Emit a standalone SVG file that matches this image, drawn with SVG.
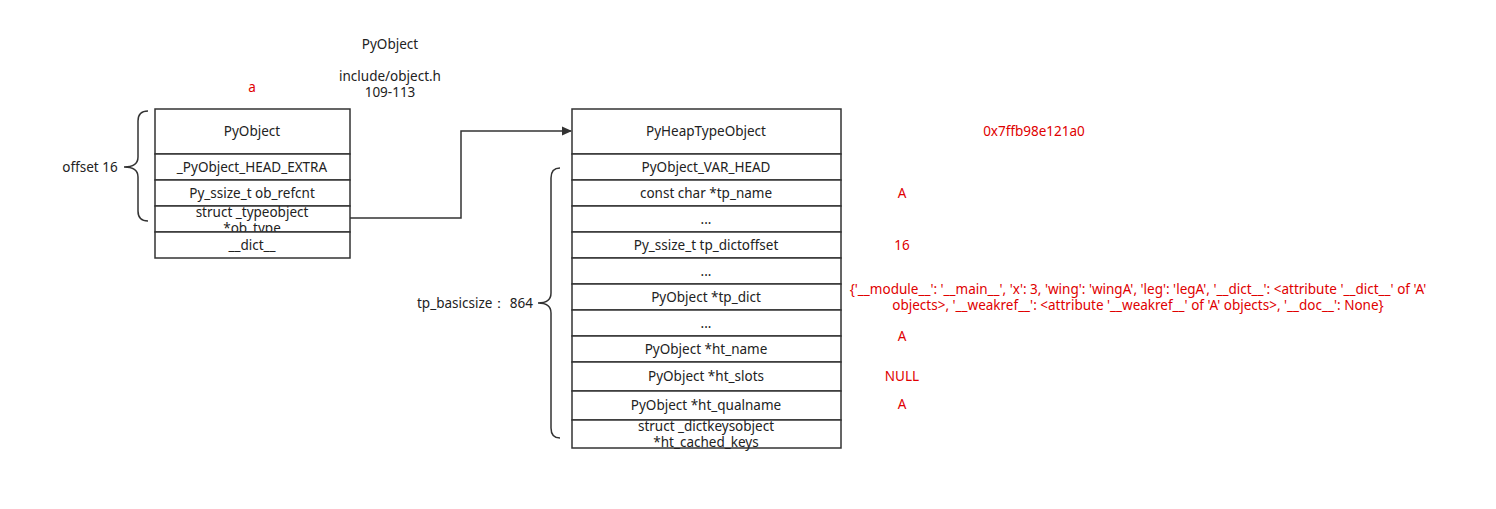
<svg xmlns="http://www.w3.org/2000/svg" width="1496" height="509" viewBox="0 0 1496 509">
<style>
text{font-family:"Noto Sans","Open Sans","DejaVu Sans",sans-serif;font-size:13.5px;fill:#222;text-anchor:middle;dominant-baseline:central}
.r{fill:#e00000}
.box{fill:#fff;stroke:#333;stroke-width:1.5}
.ln{fill:none;stroke:#333;stroke-width:1.5}
</style>
<defs>
<marker id="ah" markerWidth="10" markerHeight="10" refX="9" refY="5" orient="auto" markerUnits="userSpaceOnUse">
<path d="M0,0.5 L10,5 L0,9.5 Z" fill="#333"/>
</marker>
</defs>
<rect width="1496" height="509" fill="#fff"/>
<g id="labels">
<text x="390" y="44">PyObject</text>
<text x="390" y="76">include/object.h</text>
<text x="390" y="92">109-113</text>
<text class="r" x="252" y="87">a</text>
<text x="90" y="167">offset 16</text>
<text x="475" y="303">tp_basicsize： 864</text>
</g>
<g id="left-struct">
<rect class="box" x="155" y="109" width="195" height="45"/>
<text x="252" y="131">PyObject</text>
<rect class="box" x="155" y="154" width="195" height="26"/>
<text x="252" y="167">_PyObject_HEAD_EXTRA</text>
<rect class="box" x="155" y="180" width="195" height="26"/>
<text x="252" y="193">Py_ssize_t ob_refcnt</text>
<rect class="box" x="155" y="206" width="195" height="26"/>
<text x="252" y="212">struct _typeobject</text>
<text x="252" y="228">*ob_type</text>
<rect class="box" x="155" y="232" width="195" height="26"/>
<text x="252" y="245">__dict__</text>
</g>
<g id="right-struct">
<rect class="box" x="572" y="109" width="269" height="45"/>
<text x="706" y="131">PyHeapTypeObject</text>
<rect class="box" x="572" y="154" width="269" height="26"/>
<text x="706" y="167">PyObject_VAR_HEAD</text>
<rect class="box" x="572" y="180" width="269" height="26"/>
<text x="706" y="193">const char *tp_name</text>
<rect class="box" x="572" y="206" width="269" height="26"/>
<text x="706" y="219">...</text>
<rect class="box" x="572" y="232" width="269" height="26"/>
<text x="706" y="245">Py_ssize_t tp_dictoffset</text>
<rect class="box" x="572" y="258" width="269" height="26"/>
<text x="706" y="271">...</text>
<rect class="box" x="572" y="284" width="269" height="26"/>
<text x="706" y="297">PyObject *tp_dict</text>
<rect class="box" x="572" y="310" width="269" height="26"/>
<text x="706" y="323">...</text>
<rect class="box" x="572" y="336" width="269" height="26"/>
<text x="706" y="349">PyObject *ht_name</text>
<rect class="box" x="572" y="362" width="269" height="29"/>
<text x="706" y="376">PyObject *ht_slots</text>
<rect class="box" x="572" y="391" width="269" height="29"/>
<text x="706" y="405">PyObject *ht_qualname</text>
<rect class="box" x="572" y="420" width="269" height="28"/>
<text x="706" y="426">struct _dictkeysobject</text>
<text x="706" y="442">*ht_cached_keys</text>
</g>
<g id="values">
<text class="r" x="1034" y="131">0x7ffb98e121a0</text>
<text class="r" x="902" y="193">A</text>
<text class="r" x="902" y="245">16</text>
<text class="r" x="1138" y="289">{'__module__': '__main__', 'x': 3, 'wing': 'wingA', 'leg': 'legA', '__dict__': &lt;attribute '__dict__' of 'A'</text>
<text class="r" x="1138" y="305">objects&gt;, '__weakref__': &lt;attribute '__weakref__' of 'A' objects&gt;, '__doc__': None}</text>
<text class="r" x="902" y="336">A</text>
<text class="r" x="902" y="376">NULL</text>
<text class="r" x="902" y="404">A</text>
</g>
<g id="braces">
<path class="ln" d="M148,111 Q138,111 138,121 L138,157 Q138,167 124,167 Q138,167 138,177 L138,211 Q138,221 148,221"/>
<path class="ln" d="M560,168 Q551,168 551,178 L551,293 Q551,303 538,303 Q551,303 551,313 L551,428 Q551,438 560,438"/>
</g>
<g id="connectors">
<path class="ln" d="M350,218 L461,218 L461,131 L571,131" marker-end="url(#ah)"/>
</g>
</svg>
